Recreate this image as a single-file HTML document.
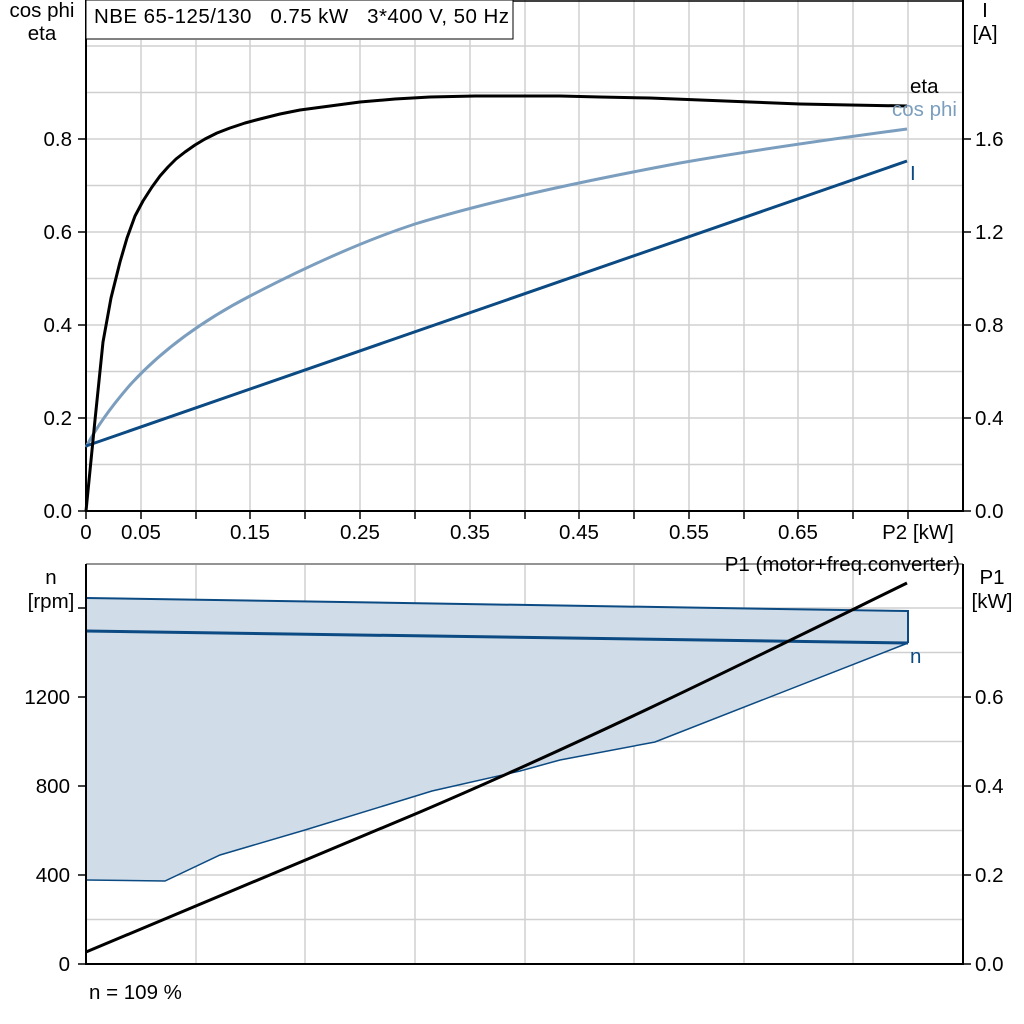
<!DOCTYPE html>
<html><head><meta charset="utf-8"><style>
html,body{margin:0;padding:0;background:#fff;}
svg{display:block;font-family:"Liberation Sans",sans-serif;font-size:20.5px;}
</style></head><body>
<svg width="1024" height="1024" viewBox="0 0 1024 1024">
<g stroke="#d0d0d0" stroke-width="1.5">
<line x1="141" y1="40" x2="141" y2="511"/><line x1="196" y1="40" x2="196" y2="511"/><line x1="250" y1="40" x2="250" y2="511"/><line x1="305" y1="40" x2="305" y2="511"/><line x1="360" y1="40" x2="360" y2="511"/><line x1="415" y1="40" x2="415" y2="511"/><line x1="470" y1="40" x2="470" y2="511"/><line x1="525" y1="0" x2="525" y2="511"/><line x1="579" y1="0" x2="579" y2="511"/><line x1="634" y1="0" x2="634" y2="511"/><line x1="689" y1="0" x2="689" y2="511"/><line x1="744" y1="0" x2="744" y2="511"/><line x1="798" y1="0" x2="798" y2="511"/><line x1="853" y1="0" x2="853" y2="511"/><line x1="908" y1="0" x2="908" y2="511"/>
<line x1="86" y1="464.5" x2="963" y2="464.5"/><line x1="86" y1="418" x2="963" y2="418"/><line x1="86" y1="371.5" x2="963" y2="371.5"/><line x1="86" y1="325" x2="963" y2="325"/><line x1="86" y1="278.5" x2="963" y2="278.5"/><line x1="86" y1="232" x2="963" y2="232"/><line x1="86" y1="185.5" x2="963" y2="185.5"/><line x1="86" y1="139" x2="963" y2="139"/><line x1="86" y1="92.5" x2="963" y2="92.5"/><line x1="86" y1="46" x2="963" y2="46"/>
<line x1="196" y1="565" x2="196" y2="964"/><line x1="305" y1="565" x2="305" y2="964"/><line x1="415" y1="565" x2="415" y2="964"/><line x1="525" y1="565" x2="525" y2="964"/><line x1="634" y1="565" x2="634" y2="964"/><line x1="744" y1="565" x2="744" y2="964"/><line x1="853" y1="565" x2="853" y2="964"/>
<line x1="86" y1="919.5" x2="963" y2="919.5"/><line x1="86" y1="875" x2="963" y2="875"/><line x1="86" y1="830.5" x2="963" y2="830.5"/><line x1="86" y1="786" x2="963" y2="786"/><line x1="86" y1="741.5" x2="963" y2="741.5"/><line x1="86" y1="697" x2="963" y2="697"/><line x1="86" y1="652.5" x2="963" y2="652.5"/><line x1="86" y1="608" x2="963" y2="608"/>
</g>
<line x1="86" y1="1" x2="963" y2="1" stroke="#000" stroke-width="1.5"/>
<g stroke="#000" stroke-width="2" fill="none">
<line x1="86" y1="0" x2="86" y2="512"/><line x1="963" y1="0" x2="963" y2="512"/><line x1="86" y1="511" x2="963" y2="511"/>
</g>
<g stroke="#000" stroke-width="1.5">
<line x1="78" y1="511" x2="86" y2="511"/><line x1="78" y1="418" x2="86" y2="418"/><line x1="78" y1="325" x2="86" y2="325"/><line x1="78" y1="232" x2="86" y2="232"/><line x1="78" y1="139" x2="86" y2="139"/>
<line x1="963" y1="511" x2="971" y2="511"/><line x1="963" y1="418" x2="971" y2="418"/><line x1="963" y1="325" x2="971" y2="325"/><line x1="963" y1="232" x2="971" y2="232"/><line x1="963" y1="139" x2="971" y2="139"/>
<line x1="86" y1="511" x2="86" y2="519"/><line x1="141" y1="511" x2="141" y2="519"/><line x1="196" y1="511" x2="196" y2="519"/><line x1="250" y1="511" x2="250" y2="519"/><line x1="305" y1="511" x2="305" y2="519"/><line x1="360" y1="511" x2="360" y2="519"/><line x1="415" y1="511" x2="415" y2="519"/><line x1="470" y1="511" x2="470" y2="519"/><line x1="525" y1="511" x2="525" y2="519"/><line x1="579" y1="511" x2="579" y2="519"/><line x1="634" y1="511" x2="634" y2="519"/><line x1="689" y1="511" x2="689" y2="519"/><line x1="744" y1="511" x2="744" y2="519"/><line x1="798" y1="511" x2="798" y2="519"/><line x1="853" y1="511" x2="853" y2="519"/><line x1="908" y1="511" x2="908" y2="519"/>
</g>
<rect x="86" y="0" width="427" height="39" fill="#fff" stroke="#000" stroke-width="1"/>
<text x="94" y="23" textLength="415" lengthAdjust="spacing">NBE 65-125/130 &#160; 0.75 kW &#160; 3*400 V, 50 Hz</text>
<path fill="none" stroke="#7b9ebf" stroke-width="3" d="M86,447 C95,430 110,408 130,385 C160,352 200,322 250,296 C300,270 360,242 415,224 C500,198 600,178 680,163 C760,149 840,138 907,129"/>
<polyline fill="none" stroke="#0b4a82" stroke-width="3" points="86,446 907,161"/>
<polyline fill="none" stroke="#000" stroke-width="3" stroke-linejoin="round" points="86,511 95,420 103,342 111,298 120,262 127,238 135,216 143,201 152,187 160,176 168,167 176,159 185,152 195,145 205,139 217,133 230,128 245,123 260,119 280,114 300,110 330,106 360,102 395,99 430,97 475,96 520,96 560,96 600,97 650,98 700,100 750,102 800,104 850,105 907,106"/>
<text x="910" y="93">eta</text>
<text x="892" y="116" fill="#7b9ebf">cos phi</text>
<text x="910" y="180" fill="#0b4a82">I</text>
<g text-anchor="middle">
<text x="42" y="17">cos phi</text><text x="42" y="40">eta</text>
<text x="985" y="17">I</text><text x="985" y="40">[A]</text>
<text x="86" y="539">0</text><text x="141" y="539">0.05</text><text x="250" y="539">0.15</text><text x="360" y="539">0.25</text><text x="470" y="539">0.35</text><text x="579" y="539">0.45</text><text x="689" y="539">0.55</text><text x="798" y="539">0.65</text><text x="918" y="539">P2 [kW]</text>
<text x="51" y="584">n</text><text x="51" y="608">[rpm]</text>
<text x="992" y="584">P1</text><text x="992" y="608">[kW]</text>
</g>
<g text-anchor="end">
<text x="72" y="518">0.0</text><text x="72" y="425">0.2</text><text x="72" y="332">0.4</text><text x="72" y="239">0.6</text><text x="72" y="146">0.8</text>
<text x="70" y="971">0</text><text x="70" y="882">400</text><text x="70" y="793">800</text><text x="70" y="704">1200</text>
</g>
<g>
<text x="975" y="518">0.0</text><text x="975" y="425">0.4</text><text x="975" y="332">0.8</text><text x="975" y="239">1.2</text><text x="975" y="146">1.6</text>
<text x="975" y="971">0.0</text><text x="975" y="882">0.2</text><text x="975" y="793">0.4</text><text x="975" y="704">0.6</text>
</g>
<line x1="86" y1="564" x2="963" y2="564" stroke="#707070" stroke-width="1.5"/>
<polygon fill="#d0dce7" stroke="none" points="86,598 908,611 908,643 655,742 560,760 432,791 305,830 220,855 165,881 86,880"/>
<polyline fill="none" stroke="#0b4a82" stroke-width="2" points="86,598 908,611 908,643"/>
<polyline fill="none" stroke="#0b4a82" stroke-width="1.5" points="86,880 165,881 220,855 305,830 432,791 520,771 560,760 655,742 908,643"/>
<polyline fill="none" stroke="#0b4a82" stroke-width="3" points="86,631 908,643"/>
<path fill="none" stroke="#000" stroke-width="3" d="M86,952 C180,912 300,862 420,812 C600,735 760,655 907,583"/>
<g stroke="#000" stroke-width="2">
<line x1="86" y1="564" x2="86" y2="965"/><line x1="963" y1="564" x2="963" y2="965"/><line x1="86" y1="964" x2="963" y2="964"/>
</g>
<g stroke="#000" stroke-width="1.5">
<line x1="78" y1="964" x2="86" y2="964"/><line x1="78" y1="875" x2="86" y2="875"/><line x1="78" y1="786" x2="86" y2="786"/><line x1="78" y1="697" x2="86" y2="697"/><line x1="78" y1="608" x2="86" y2="608"/>
<line x1="963" y1="964" x2="971" y2="964"/><line x1="963" y1="875" x2="971" y2="875"/><line x1="963" y1="786" x2="971" y2="786"/><line x1="963" y1="697" x2="971" y2="697"/>
</g>
<text x="960" y="571" text-anchor="end">P1 (motor+freq.converter)</text>
<text x="910" y="663" fill="#0b4a82">n</text>
<text x="89" y="999">n = 109 %</text>
</svg>
</body></html>
